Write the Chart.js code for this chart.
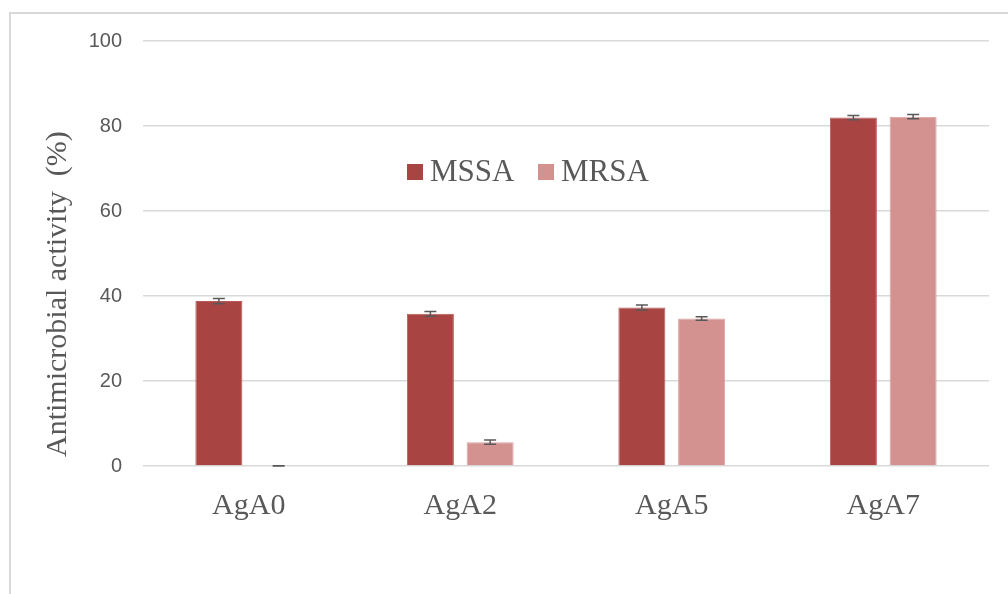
<!DOCTYPE html>
<html>
<head>
<meta charset="utf-8">
<script src="https://cdn.jsdelivr.net/npm/chart.js@4/dist/chart.umd.min.js"></script>
<style>
  body { margin: 0; background: #fff; }
  #wrap { width: 1008px; height: 594px; position: relative; }
</style>
</head>
<body>
<div id="wrap"><canvas id="chartBar"></canvas></div>
<script>
const categories = ["AgA0", "AgA2", "AgA5", "AgA7"];
const mssaValues = [38.8, 35.8, 37.3, 82.0];
const mssaErrors = [0.6, 0.55, 0.6, 0.5];
const mrsaValues = [0, 5.6, 34.7, 82.2];
const mrsaErrors = [0.05, 0.5, 0.4, 0.5];
const yTicks = [0, 20, 40, 60, 80, 100];
const yTitle = "Antimicrobial activity  (%)";

const serif = "'Liberation Serif', 'Times New Roman', serif";

// frame round the figure, like the copied picture
const framePlugin = {
    id: "frame",
    beforeDraw(chart) {
        const ctx = chart.ctx;
        ctx.save();
        ctx.strokeStyle = "#d9d9d9";
        ctx.lineWidth = 2;
        ctx.beginPath();
        ctx.moveTo(10, chart.height + 5);
        ctx.lineTo(10, 13);
        ctx.lineTo(chart.width + 5, 13);
        ctx.stroke();
        ctx.restore();
    }
};

// error bars drawn on top of the bars
const errorBarPlugin = {
    id: "errorBars",
    afterDatasetsDraw(chart) {
        const ctx = chart.ctx;
        const yScale = chart.scales.y;
        ctx.save();
        ctx.strokeStyle = "#595959";
        ctx.lineWidth = 1.5;
        chart.data.datasets.forEach((ds, di) => {
            const meta = chart.getDatasetMeta(di);
            meta.data.forEach((bar, i) => {
                const v = ds.data[i];
                const e = ds.errors[i];
                const yTop = yScale.getPixelForValue(v + e);
                const yBot = yScale.getPixelForValue(Math.max(0, v - e));
                const x = bar.x;
                ctx.beginPath();
                ctx.moveTo(x, yTop); ctx.lineTo(x, yBot);
                ctx.moveTo(x - 6, yTop); ctx.lineTo(x + 6, yTop);
                ctx.moveTo(x - 6, yBot); ctx.lineTo(x + 6, yBot);
                ctx.stroke();
            });
        });
        ctx.restore();
    }
};

// legend sitting inside the plot and the y title, as in the original
const innerLegendPlugin = {
    id: "innerLegend",
    afterDraw(chart) {
        const ctx = chart.ctx;
        const positions = [407, 538];
        ctx.save();
        ctx.font = "31px " + serif;
        ctx.textBaseline = "alphabetic";
        ctx.textAlign = "left";
        chart.data.datasets.forEach((ds, di) => {
            const x = positions[di];
            ctx.fillStyle = ds.backgroundColor;
            ctx.fillRect(x, 164, 16, 16);
            ctx.fillStyle = "#595959";
            ctx.fillText(ds.label, x + 23, 181);
        });
        ctx.restore();

        ctx.save();
        ctx.translate(58, 457);
        ctx.rotate(-Math.PI / 2);
        ctx.font = "30px " + serif;
        ctx.fillStyle = "#595959";
        ctx.textAlign = "left";
        ctx.textBaseline = "middle";
        ctx.fillText(yTitle, 0, 0);
        ctx.restore();
    }
};

const dataBar = {
    labels: categories,
    datasets: [
        {
            label: "MSSA",
            data: mssaValues,
            errors: mssaErrors,
            backgroundColor: "#a84543",
            borderColor: "#b85a58",
            borderWidth: 1
        },
        {
            label: "MRSA",
            data: mrsaValues,
            errors: mrsaErrors,
            backgroundColor: "#d39190",
            borderColor: "#dca3a2",
            borderWidth: 1
        }
    ]
};

const configBar = {
    type: "bar",
    data: dataBar,
    options: {
        responsive: true,
        maintainAspectRatio: false,
        animation: false,
        categoryPercentage: 0.565,
        barPercentage: 0.787,
        layout: {
            padding: { left: 0, right: 19, top: 41, bottom: 0 }
        },
        plugins: {
            legend: { display: false },
            tooltip: { enabled: false }
        },
        scales: {
            x: {
                grid: { display: false },
                border: { display: false },
                ticks: {
                    color: "#595959",
                    padding: 14,
                    font: { family: serif, size: 30 }
                },
                afterFit(scale) { scale.height = 128; }
            },
            y: {
                min: 0,
                max: 100,
                afterBuildTicks(scale) {
                    scale.ticks = yTicks.map(v => ({ value: v }));
                },
                grid: { color: "#d9d9d9", lineWidth: 1.5, drawTicks: false },
                border: { display: false },
                ticks: {
                    color: "#595959",
                    padding: 21,
                    font: { family: "'Liberation Sans', Arial, sans-serif", size: 20 }
                },
                afterFit(scale) { scale.width = 143; }
            }
        }
    },
    plugins: [framePlugin, errorBarPlugin, innerLegendPlugin]
};

var chartBar = new Chart(document.getElementById("chartBar"), configBar);
</script>
</body>
</html>
